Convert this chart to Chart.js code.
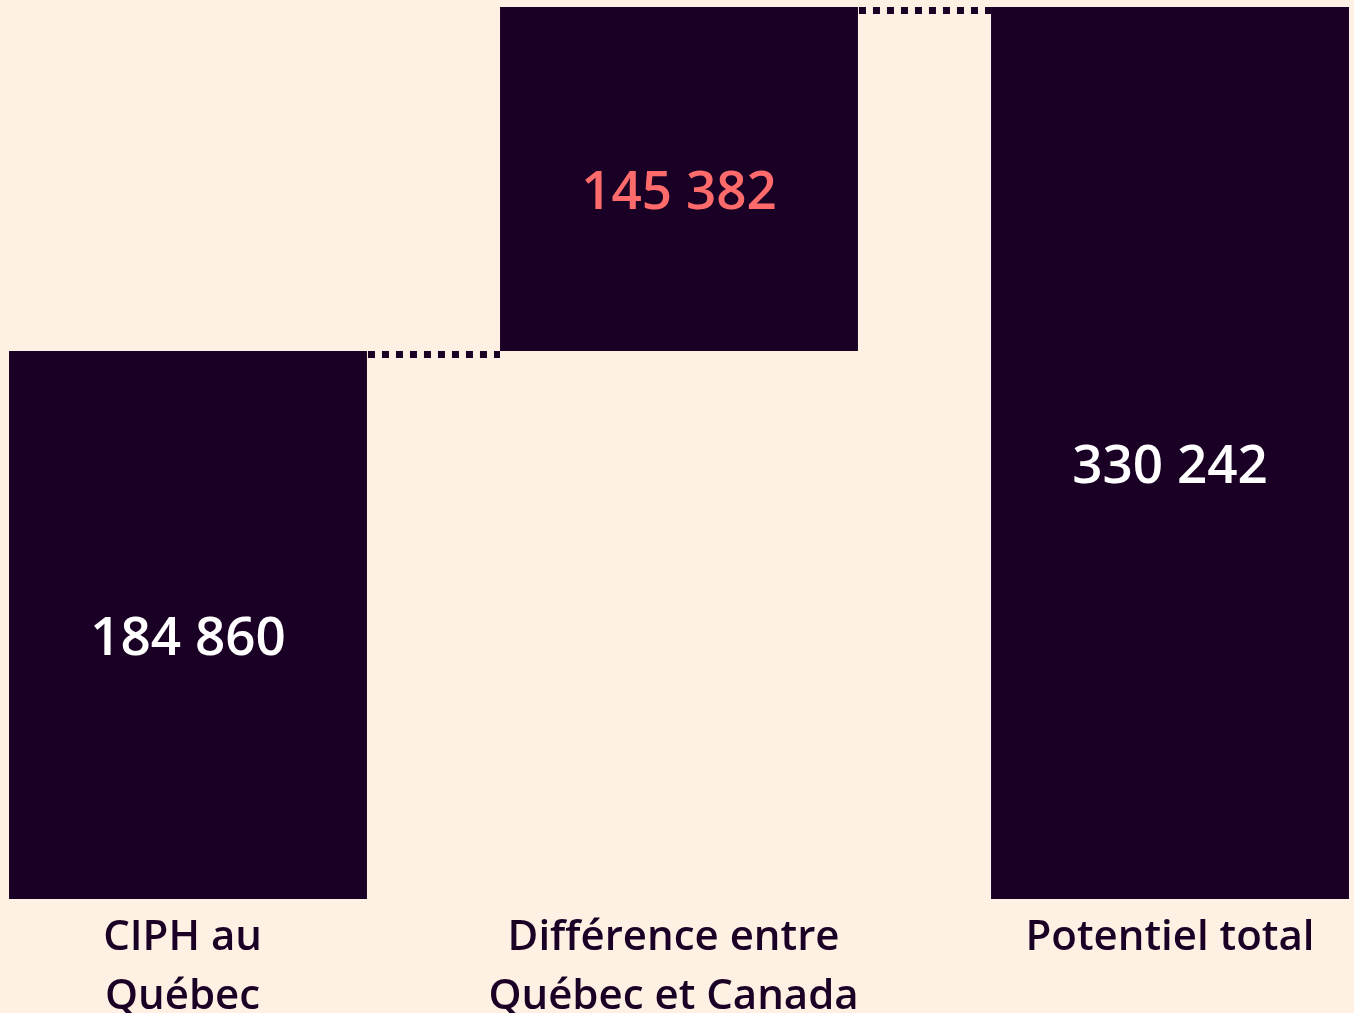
<!DOCTYPE html>
<html>
<head>
<meta charset="utf-8">
<script src="https://cdn.jsdelivr.net/npm/chart.js@4"></script>
<style>
body{margin:0;background:#fef1e4;}
canvas{display:block;}
</style>
</head>
<body>
<canvas id="chart" width="1354" height="1013"></canvas>
<script>
// categories (trailing spaces as in the original labels)
const categories = [["CIPH au ", "Québec "], ["Différence entre ", "Québec et Canada "], "Potentiel total"];
const quebec = 184860;
const difference = 145382;
const total = 330242;
const valueLabels = ["184 860", "145 382", "330 242"];
const labelColors = ["#ffffff", "#ff6b6b", "#ffffff"];

// the bars don't start at zero in the original, axis bottom sits below it
const axisMin = -46750;

const bars = [[axisMin, quebec], [quebec, quebec + difference], [axisMin, total]];

const barColor = "#1b0026";
const font = "'Open Sans', sans-serif";

// value text in the middle of each bar + dotted connectors
const extras = {
    id: "extras",
    afterDatasetsDraw(chart){
        const ctx = chart.ctx;
        const meta = chart.getDatasetMeta(0);
        const y = chart.scales.y;
        ctx.save();
        // connectors
        ctx.strokeStyle = barColor;
        ctx.lineWidth = 7;
        ctx.setLineDash([7, 7]);
        for(let i=0;i<meta.data.length-1;i++){
            let a = meta.data[i], b = meta.data[i+1];
            let level = bars[i][1];
            let py = y.getPixelForValue(level) + 3.5;
            ctx.beginPath();
            ctx.moveTo(a.x + a.width/2 + 1, py);
            ctx.lineTo(b.x - b.width/2, py);
            ctx.stroke();
        }
        ctx.setLineDash([]);
        // values
        ctx.font = "600 53px " + font;
        ctx.textAlign = "center";
        ctx.textBaseline = "middle";
        meta.data.forEach((bar, i) => {
            ctx.fillStyle = labelColors[i];
            ctx.fillText(valueLabels[i], bar.x, (bar.y + bar.base)/2 + 15);
        });
        ctx.restore();
    }
};

const ctx = document.getElementById("chart").getContext("2d");
const myChart = new Chart(ctx, {
    type: "bar",
    data: {
        labels: categories,
        datasets: [{
            data: bars,
            backgroundColor: barColor,
            borderWidth: 0,
            categoryPercentage: 1,
            barPercentage: 0.729,
            clip: false
        }]
    },
    options: {
        responsive: false,
        animation: false,
        layout: {padding: {left: 188, right: 184, top: 7, bottom: 0}},
        plugins: {legend: {display: false}, tooltip: {enabled: false}},
        scales: {
            x: {
                offset: false,
                grid: {display: false, drawTicks: false},
                border: {display: false},
                ticks: {
                    color: barColor,
                    font: {family: font, size: 42, weight: "600", lineHeight: 1.42},
                    padding: 9,
                    maxRotation: 0,
                    autoSkip: false
                },
                afterFit: s => { s.height = 114; }
            },
            y: {
                display: false,
                min: axisMin,
                max: total
            }
        }
    },
    plugins: [extras]
});
</script>
</body>
</html>
